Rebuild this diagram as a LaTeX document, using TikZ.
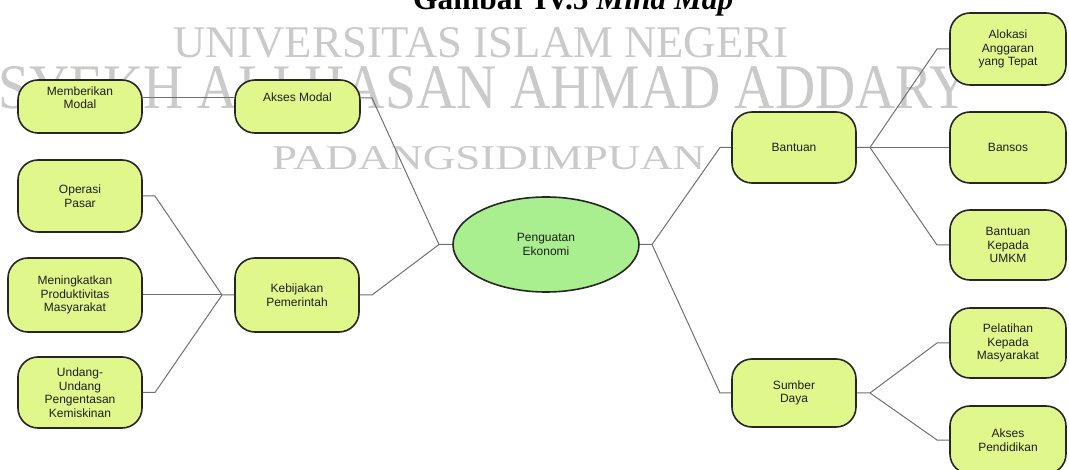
\documentclass[tikz,border=0pt]{standalone}
\usepackage{fontspec}
\setmainfont{Liberation Sans}
\newfontfamily\wmfont{Liberation Serif}
\usepackage{graphicx}
\usetikzlibrary{shapes.geometric}
\definecolor{boxfill}{HTML}{E0F78C}
\definecolor{ellfill}{HTML}{A9EE8F}
\definecolor{boxline}{HTML}{262626}
\definecolor{conn}{HTML}{707070}
\definecolor{wm}{HTML}{CACACA}
\definecolor{txt}{HTML}{1E1E1E}
\begin{document}
\begin{tikzpicture}[x=1pt,y=-1pt,
  box/.style={draw=boxline, line width=1.6pt, fill=boxfill, rounded corners=20pt, inner sep=0pt,
              align=center, text=txt, font=\fontsize{12}{13.5}\selectfont},
  ell/.style={ellipse, draw=boxline, line width=1.6pt, fill=ellfill, inner sep=0pt,
              align=center, text=txt, font=\fontsize{12}{13.5}\selectfont},
  lbl/.style={align=center, text=txt, inner sep=0pt, font=\fontsize{12}{13.5}\selectfont},
  link/.style={draw=conn, line width=1pt},
  wmark/.style={inner sep=0pt, anchor=base west, text=wm, font=\wmfont},
]
\useasboundingbox (0,0) rectangle (1069,470);
\clip (0,0) rectangle (1069,470);
\fill[white] (0,0) rectangle (1069,470);

% title (cut at top)
\node[inner sep=0pt, anchor=base west] (title) at (413,10)
  {\resizebox{320pt}{!}{\wmfont\bfseries Gambar IV.5 \textit{Mind Map}}};

% watermark
\node[wmark] (wm1) at (173,58) {\resizebox{615pt}{30pt}{UNIVERSITAS ISLAM NEGERI}};
\node[wmark] (wm2) at (-2,109) {\resizebox{972pt}{42pt}{SYEKH ALI HASAN AHMAD ADDARY}};
\node[wmark] (wm3) at (272,170) {\resizebox{433pt}{23pt}{PADANGSIDIMPUAN}};

% junction coordinates
\coordinate (j1) at (372,98);
\coordinate (jc) at (439,244.5);
\coordinate (j2) at (372,295);
\coordinate (jk) at (222,295);
\coordinate (o1) at (155,196);
\coordinate (u1) at (155,392.5);
\coordinate (jr) at (652,244.5);
\coordinate (b1) at (720,147.5);
\coordinate (s1) at (720,393);
\coordinate (jb) at (870,147.5);
\coordinate (a1) at (937,49);
\coordinate (k1) at (937,245);
\coordinate (js) at (870,393);
\coordinate (p1) at (937,343);
\coordinate (d1) at (937,440);

% nodes
\node[box, minimum width=124pt, minimum height=53pt] (memb) at (80,106.5) {};
\node[box, minimum width=125pt, minimum height=53pt] (akses) at (297.5,106.5) {};
\node[box, minimum width=124pt, minimum height=72pt] (oper) at (80,196) {Operasi\\Pasar};
\node[box, minimum width=134pt, minimum height=74pt] (menin) at (75,295) {Meningkatkan\\Produktivitas\\Masyarakat};
\node[box, minimum width=124pt, minimum height=71pt] (undang) at (80,392.5) {Undang-\\Undang\\Pengentasan\\Kemiskinan};
\node[box, minimum width=124pt, minimum height=74pt] (kebij) at (297,295) {Kebijakan\\Pemerintah};
\node[ell, minimum width=186pt, minimum height=95pt] (pe) at (546,244.5) {Penguatan\\Ekonomi};
\node[box, minimum width=124pt, minimum height=71pt] (bantuan) at (794,147.5) {Bantuan};
\node[box, minimum width=124pt, minimum height=68pt] (sumber) at (794,393) {Sumber\\Daya};
\node[box, minimum width=116pt, minimum height=72pt] (alokasi) at (1008,49) {Alokasi\\Anggaran\\yang Tepat};
\node[box, minimum width=116pt, minimum height=71pt] (bansos) at (1008,147.5) {Bansos};
\node[box, minimum width=116pt, minimum height=70pt] (umkm) at (1008,245) {Bantuan\\Kepada\\UMKM};
\node[box, minimum width=116pt, minimum height=70pt] (pelat) at (1008,343) {Pelatihan\\Kepada\\Masyarakat};
\node[box, minimum width=116pt, minimum height=68pt] (pend) at (1008,440) {Akses\\Pendidikan};
\node[lbl] (membt) at (80,97.5) {Memberikan\\Modal};
\node[lbl] (aksest) at (297.5,97.5) {Akses Modal};

% connectors
\path[link] (memb.east |- j1) -- (akses.west |- j1);
\path[link] (akses.east |- j1) -- (j1) -- (jc) -- (pe.west);
\path[link] (kebij.east) -- (j2) -- (jc);
\path[link] (oper.east) -- (o1) -- (jk) -- (kebij.west);
\path[link] (menin.east) -- (jk);
\path[link] (undang.east) -- (u1) -- (jk);
\path[link] (pe.east) -- (jr) -- (b1) -- (bantuan.west);
\path[link] (jr) -- (s1) -- (sumber.west);
\path[link] (bantuan.east) -- (jb) -- (a1) -- (alokasi.west);
\path[link] (jb) -- (bansos.west);
\path[link] (jb) -- (k1) -- (umkm.west);
\path[link] (sumber.east) -- (js) -- (p1) -- (pelat.west);
\path[link] (js) -- (d1) -- (pend.west);
\end{tikzpicture}
\end{document}
